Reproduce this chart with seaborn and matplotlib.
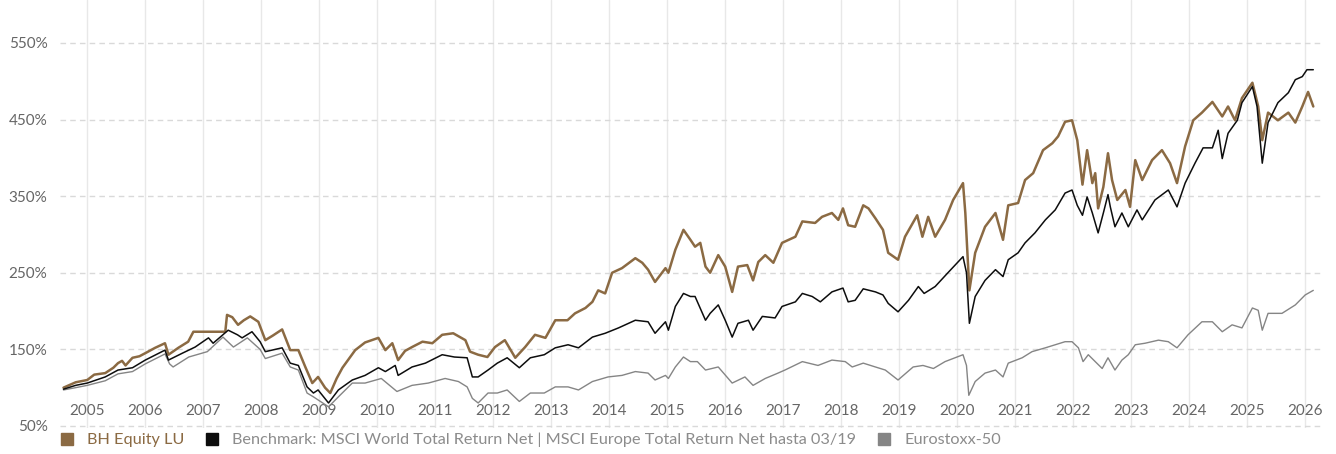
import pandas as pd
import seaborn as sns
import matplotlib.pyplot as plt
from matplotlib.lines import Line2D

# BH Equity LU (decimal year, value in %)
bh_t = [2004.59, 2004.8, 2005.0, 2005.12, 2005.31, 2005.45, 2005.53, 2005.6, 2005.66, 2005.78, 2005.9,
        2006.0, 2006.17, 2006.34, 2006.4, 2006.57, 2006.74, 2006.83, 2007.38, 2007.41, 2007.5, 2007.6,
        2007.7, 2007.81, 2007.95, 2008.07, 2008.2, 2008.36, 2008.5, 2008.64, 2008.76, 2008.88, 2008.98,
        2009.1, 2009.19, 2009.3, 2009.4, 2009.62, 2009.79, 2010.02, 2010.14, 2010.26, 2010.36, 2010.48,
        2010.6, 2010.78, 2010.95, 2011.12, 2011.31, 2011.52, 2011.6, 2011.74, 2011.9, 2012.03, 2012.2,
        2012.38, 2012.55, 2012.72, 2012.9, 2013.07, 2013.28, 2013.41, 2013.59, 2013.71, 2013.81, 2013.93,
        2014.05, 2014.22, 2014.45, 2014.57, 2014.67, 2014.79, 2014.97, 2015.02, 2015.14, 2015.28, 2015.4,
        2015.48, 2015.57, 2015.66, 2015.74, 2015.88, 2016.0, 2016.12, 2016.22, 2016.38, 2016.48, 2016.57,
        2016.69, 2016.83, 2016.98, 2017.21, 2017.33, 2017.55, 2017.67, 2017.84, 2017.95, 2018.03, 2018.12,
        2018.24, 2018.38, 2018.47, 2018.59, 2018.72, 2018.81, 2018.98, 2019.1, 2019.31, 2019.4, 2019.5,
        2019.62, 2019.79, 2019.93, 2020.1, 2020.14, 2020.21, 2020.31, 2020.48, 2020.66, 2020.79, 2020.88,
        2021.05, 2021.17, 2021.31, 2021.48, 2021.64, 2021.74, 2021.86, 2021.98, 2022.07, 2022.16, 2022.24,
        2022.33, 2022.38, 2022.43, 2022.52, 2022.6, 2022.67, 2022.76, 2022.9, 2022.98, 2023.07, 2023.19,
        2023.36, 2023.53, 2023.67, 2023.79, 2023.93, 2024.07, 2024.22, 2024.4, 2024.57, 2024.67, 2024.79,
        2024.91, 2025.09, 2025.19, 2025.26, 2025.36, 2025.53, 2025.71, 2025.83, 2025.95, 2026.05, 2026.14]
bh_v = [100, 107, 110, 117, 119, 126, 132, 135, 129, 139, 141,
        145, 152, 158, 143, 152, 160, 173, 173, 195, 192, 182,
        188, 193, 186, 162, 168, 176, 149, 149, 127, 106, 114,
        100, 93, 112, 126, 149, 159, 165, 149, 158, 136, 148,
        153, 160, 158, 169, 171, 162, 147, 143, 140, 153, 162,
        139, 153, 169, 165, 188, 188, 197, 204, 212, 227, 223,
        250, 256, 269, 263, 254, 238, 256, 250, 280, 306, 293,
        284, 289, 258, 250, 273, 258, 225, 258, 260, 240, 264,
        273, 263, 289, 297, 317, 315, 323, 328, 319, 334, 312,
        310, 338, 334, 321, 306, 276, 267, 297, 325, 297, 323,
        297, 319, 345, 367, 328, 227, 276, 310, 328, 293, 338,
        341, 371, 380, 410, 419, 428, 447, 449, 423, 365, 410,
        367, 380, 334, 362, 406, 371, 345, 358, 336, 397, 371,
        397, 410, 393, 367, 415, 449, 459, 473, 454, 467, 449,
        478, 498, 467, 423, 459, 449, 459, 446, 467, 486, 467]

# Benchmark
bm_t = [2004.59, 2004.8, 2005.0, 2005.31, 2005.53, 2005.78, 2006.0, 2006.34, 2006.4, 2006.64, 2006.86,
        2007.09, 2007.17, 2007.43, 2007.59, 2007.67, 2007.84, 2007.98, 2008.07, 2008.36, 2008.5, 2008.64,
        2008.79, 2008.9, 2008.98, 2009.16, 2009.33, 2009.57, 2009.79, 2010.02, 2010.14, 2010.31, 2010.36,
        2010.6, 2010.83, 2011.12, 2011.33, 2011.55, 2011.64, 2011.74, 2011.91, 2012.07, 2012.24, 2012.45,
        2012.64, 2012.88, 2013.07, 2013.29, 2013.47, 2013.71, 2013.93, 2014.16, 2014.45, 2014.67, 2014.79,
        2014.97, 2015.02, 2015.14, 2015.28, 2015.4, 2015.48, 2015.66, 2015.74, 2015.88, 2016.0, 2016.12,
        2016.22, 2016.4, 2016.48, 2016.64, 2016.86, 2016.98, 2017.21, 2017.33, 2017.5, 2017.64, 2017.84,
        2018.03, 2018.12, 2018.24, 2018.38, 2018.59, 2018.72, 2018.81, 2018.98, 2019.16, 2019.33, 2019.43,
        2019.62, 2019.84, 2020.1, 2020.16, 2020.21, 2020.31, 2020.48, 2020.66, 2020.79, 2020.88, 2021.05,
        2021.17, 2021.34, 2021.52, 2021.69, 2021.86, 2021.98, 2022.07, 2022.16, 2022.24, 2022.33, 2022.43,
        2022.52, 2022.6, 2022.64, 2022.72, 2022.84, 2022.95, 2023.1, 2023.19, 2023.41, 2023.64, 2023.79,
        2023.93, 2024.1, 2024.24, 2024.4, 2024.5, 2024.57, 2024.67, 2024.83, 2024.91, 2025.09, 2025.17,
        2025.26, 2025.36, 2025.53, 2025.71, 2025.83, 2025.95, 2026.03, 2026.14]
bm_v = [98, 103, 106, 114, 123, 126, 136, 149, 136, 145, 153,
        165, 158, 175, 169, 165, 173, 160, 147, 152, 132, 129,
        101, 93, 97, 80, 97, 110, 116, 126, 121, 129, 116,
        127, 132, 143, 140, 139, 114, 114, 123, 132, 139, 126,
        139, 143, 152, 156, 152, 166, 171, 178, 188, 186, 171,
        186, 175, 206, 223, 219, 219, 188, 197, 208, 188, 166,
        184, 188, 175, 193, 191, 206, 212, 223, 219, 212, 225,
        230, 212, 214, 229, 225, 221, 210, 199, 214, 232, 223,
        232, 250, 271, 250, 184, 219, 240, 254, 245, 267, 276,
        289, 302, 319, 332, 354, 358, 338, 325, 349, 328, 302,
        328, 352, 336, 310, 328, 310, 332, 319, 345, 358, 336,
        367, 393, 413, 413, 436, 399, 432, 449, 472, 493, 467,
        393, 446, 472, 485, 502, 506, 515, 515]

# Eurostoxx-50
sx_t = [2004.59, 2004.8, 2005.0, 2005.31, 2005.53, 2005.78, 2006.0, 2006.34, 2006.42, 2006.48, 2006.75,
        2007.07, 2007.34, 2007.52, 2007.76, 2007.98, 2008.07, 2008.36, 2008.5, 2008.64, 2008.79, 2008.9,
        2009.16, 2009.33, 2009.57, 2009.79, 2010.07, 2010.34, 2010.6, 2010.88, 2011.17, 2011.4, 2011.55,
        2011.64, 2011.74, 2011.91, 2012.07, 2012.24, 2012.45, 2012.64, 2012.88, 2013.07, 2013.29, 2013.47,
        2013.71, 2013.98, 2014.22, 2014.45, 2014.67, 2014.79, 2014.97, 2015.02, 2015.14, 2015.28, 2015.4,
        2015.52, 2015.66, 2015.88, 2016.12, 2016.34, 2016.48, 2016.69, 2016.91, 2017.03, 2017.33, 2017.6,
        2017.84, 2018.07, 2018.19, 2018.38, 2018.59, 2018.76, 2018.98, 2019.24, 2019.41, 2019.59, 2019.79,
        2020.1, 2020.16, 2020.2, 2020.31, 2020.48, 2020.66, 2020.79, 2020.88, 2021.12, 2021.29, 2021.52,
        2021.69, 2021.86, 2021.98, 2022.09, 2022.17, 2022.26, 2022.38, 2022.5, 2022.6, 2022.72, 2022.84,
        2022.95, 2023.07, 2023.24, 2023.47, 2023.64, 2023.79, 2023.98, 2024.22, 2024.4, 2024.57, 2024.74,
        2024.91, 2025.09, 2025.19, 2025.26, 2025.36, 2025.6, 2025.83, 2026.0, 2026.14]
sx_v = [97, 100, 103, 109, 118, 121, 131, 144, 131, 127, 140,
        147, 166, 153, 165, 150, 138, 145, 127, 123, 93, 88,
        75, 88, 106, 106, 112, 95, 103, 106, 112, 108, 101,
        86, 80, 93, 93, 97, 82, 93, 93, 101, 101, 97,
        108, 114, 116, 121, 119, 110, 116, 112, 127, 140, 134,
        134, 123, 127, 106, 114, 103, 112, 119, 123, 134, 129,
        136, 134, 127, 132, 127, 123, 110, 127, 129, 125, 134,
        143, 129, 90, 108, 119, 123, 114, 132, 139, 147, 152,
        156, 160, 160, 152, 134, 143, 134, 125, 139, 123, 136,
        143, 156, 158, 162, 160, 152, 169, 186, 186, 173, 182,
        178, 204, 201, 175, 197, 197, 208, 221, 227]

names = ["BH Equity LU",
         "Benchmark: MSCI World Total Return Net | MSCI Europe Total Return Net hasta 03/19",
         "Eurostoxx-50"]
colors = ["#8b6a43", "#0d0d0d", "#858585"]
years = list(range(2005, 2027))
y_ticks = [50, 150, 250, 350, 450, 550]

sns.set_style("white")
plt.rcParams['font.family'] = ['Lato', 'DejaVu Sans']

fig, ax = plt.subplots(figsize=(13.36, 4.54), dpi=100)
fig.subplots_adjust(left=60 / 1336, right=1322 / 1336, bottom=26.5 / 454, top=1.0)

# draw order: gray, brown, black on top
sns.lineplot(x=sx_t, y=sx_v, color=colors[2], linewidth=1.0, ax=ax)
sns.lineplot(x=bh_t, y=bh_v, color=colors[0], linewidth=1.8, ax=ax)
sns.lineplot(x=bm_t, y=bm_v, color=colors[1], linewidth=1.1, ax=ax)

ax.set_xlim(2004.53, 2026.29)
ax.set_ylim(48, 606)
ax.set_xticks(years)
ax.set_xticklabels([str(y) for y in years])
ax.set_yticks(y_ticks)
ax.set_yticklabels([f"{v}%" for v in y_ticks])

ax.grid(axis='x', color='#e8e8e8', linewidth=1)
ax.grid(axis='y', color='#d9d9d9', linewidth=1, linestyle=(0, (4, 3)))
ax.set_axisbelow(True)
sns.despine(ax=ax, left=True, bottom=True)

ax.tick_params(axis='both', length=0, labelsize=11, labelcolor='#666666')
ax.tick_params(axis='x', pad=-17)
ax.tick_params(axis='y', pad=9)
ax.set_xlabel("")
ax.set_ylabel("")

handles = [Line2D([], [], marker='s', linestyle='none', markersize=9,
                  markerfacecolor=c, markeredgecolor=c) for c in colors]
leg = fig.legend(handles, names, loc='center left', bbox_to_anchor=(52 / 1336, 14 / 454),
                 ncol=3, frameon=False, handlelength=0.8, handletextpad=0.85,
                 columnspacing=1.3, fontsize=11.7, borderpad=0)
for i, txt in enumerate(leg.get_texts()):
    txt.set_color(colors[0] if i == 0 else '#8c8c8c')

fig.savefig("out.png", dpi=100)
